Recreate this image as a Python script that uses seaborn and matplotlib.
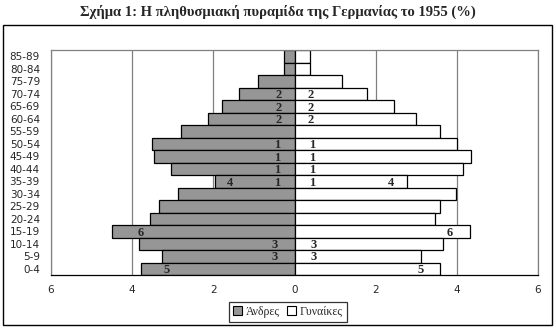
import numpy as np
import pandas as pd
import matplotlib
matplotlib.use("Agg")
import matplotlib.pyplot as plt
from matplotlib.patches import Rectangle, Patch
import seaborn as sns

# Age groups, top to bottom
ages = ["85-89", "80-84", "75-79", "70-74", "65-69", "60-64", "55-59", "50-54",
        "45-49", "40-44", "35-39", "30-34", "25-29", "20-24", "15-19", "10-14",
        "5-9", "0-4"]
# Share of population (%)
men = [0.27, 0.27, 0.91, 1.37, 1.78, 2.12, 2.79, 3.51, 3.45, 3.04, 1.97, 2.86,
       3.35, 3.57, 4.49, 3.83, 3.26, 3.79]
women = [0.38, 0.38, 1.16, 1.78, 2.44, 2.99, 3.58, 4.00, 4.35, 4.15, 2.76, 3.98,
         3.58, 3.46, 4.32, 3.65, 3.11, 3.58]

# Small numeric markers written inside the bars: (age group, x position, text)
men_marks = [("70-74", -0.38, "2"), ("65-69", -0.38, "2"), ("60-64", -0.38, "2"),
             ("50-54", -0.42, "1"), ("45-49", -0.42, "1"), ("40-44", -0.42, "1"),
             ("35-39", -0.42, "1"), ("35-39", -1.6, "4"), ("15-19", -3.78, "6"),
             ("10-14", -0.48, "3"), ("5-9", -0.48, "3"), ("0-4", -3.14, "5")]
women_marks = [("70-74", 0.40, "2"), ("65-69", 0.40, "2"), ("60-64", 0.40, "2"),
               ("50-54", 0.43, "1"), ("45-49", 0.43, "1"), ("40-44", 0.43, "1"),
               ("35-39", 0.43, "1"), ("35-39", 2.38, "4"), ("15-19", 3.82, "6"),
               ("10-14", 0.47, "3"), ("5-9", 0.47, "3"), ("0-4", 3.10, "5")]

xticks = [-6, -4, -2, 0, 2, 4, 6]
xtick_labels = ["6", "4", "2", "0", "2", "4", "6"]

title = "Σχήμα 1: Η πληθυσμιακή πυραμίδα της Γερμανίας το 1955 (%)"
men_label = "Άνδρες"
women_label = "Γυναίκες"

sns.set_style("white")
plt.rcParams["font.family"] = ["DejaVu Sans"]

W, H = 556, 330
fig = plt.figure(figsize=(W / 100, H / 100), dpi=100)
ax = fig.add_axes([51 / W, 1 - 275 / H, (538 - 51) / W, (275 - 50) / H])

df = pd.DataFrame({"age": ages, "men": -np.array(men), "women": np.array(women)})

gray = "#969696"
ax.set_axisbelow(True)
for x in xticks:
    ax.axvline(x, color="#808080", lw=0.9, zorder=0)

sns.barplot(data=df, x="men", y="age", order=ages, orient="h", color=gray,
            saturation=1, width=1.0, edgecolor="black", linewidth=0.9, ax=ax, zorder=2)
sns.barplot(data=df, x="women", y="age", order=ages, orient="h", color="white",
            saturation=1, width=1.0, edgecolor="black", linewidth=0.9, ax=ax, zorder=2)

pos = {a: i for i, a in enumerate(ages)}
for a, x, t in men_marks + women_marks:
    ax.text(x, pos[a] + 0.1, t, ha="center", va="center", fontsize=9,
            fontweight="bold", family="Liberation Serif", zorder=3)

ax.set_xlim(-6, 6)
ax.set_ylim(len(ages) - 0.5, -0.5)
ax.set_xticks(xticks)
ax.set_xticklabels(xtick_labels, fontsize=7.5)
ax.set_yticks(range(len(ages)))
ax.set_yticklabels(ages, fontsize=7.5)
ax.set_xlabel("")
ax.set_ylabel("")
ax.tick_params(axis="x", direction="out", length=4, width=0.9, color="black", pad=3)
ax.tick_params(axis="y", length=0, pad=8)
for s in ["top", "left", "right"]:
    ax.spines[s].set_color("#808080")
    ax.spines[s].set_linewidth(0.9)
ax.spines["bottom"].set_color("black")
ax.spines["bottom"].set_linewidth(0.9)

# Outer chart frame
fig.patches.append(Rectangle((3 / W, 1 - 325 / H), (552 - 3) / W, (325 - 25) / H,
                             transform=fig.transFigure, fill=False,
                             edgecolor="black", lw=1.0))

fig.text(0.5, 1 - 12 / H, title, ha="center", va="center", fontsize=10.5,
         fontweight="bold", family="Liberation Serif")

handles = [Patch(facecolor=gray, edgecolor="black", lw=0.8, label=men_label),
           Patch(facecolor="white", edgecolor="black", lw=0.8, label=women_label)]
leg = fig.legend(handles=handles, loc="center", bbox_to_anchor=(288 / W, 1 - 312 / H),
                 ncol=2, frameon=True, fancybox=False,
                 prop={"family": "Liberation Serif", "size": 8.5},
                 handlelength=0.8, handleheight=0.8, handletextpad=0.3,
                 columnspacing=0.6, borderpad=0.35, edgecolor="black")
leg.get_frame().set_linewidth(0.9)

fig.savefig("out.png", dpi=100, facecolor="white")
